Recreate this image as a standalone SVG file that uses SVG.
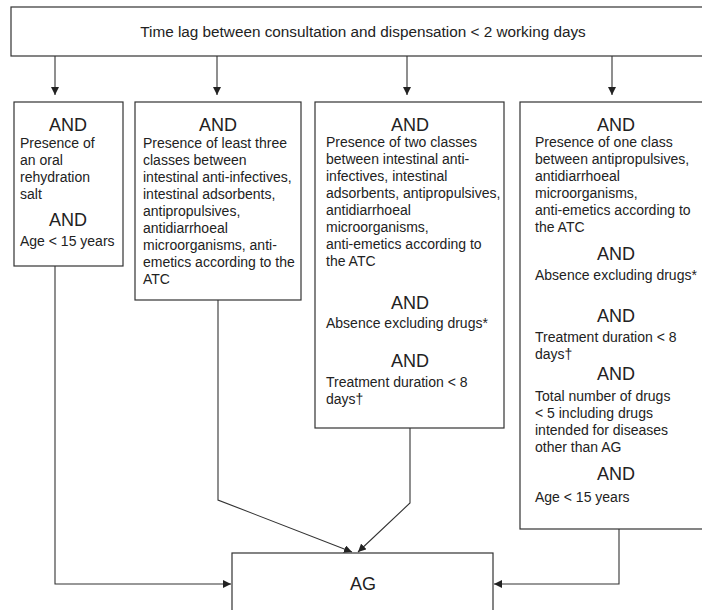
<svg xmlns="http://www.w3.org/2000/svg" width="702" height="610" viewBox="0 0 702 610">
<style>
.box{fill:#fff;stroke:#333;stroke-width:1.2}
.t{font-family:"Liberation Sans",Arial,sans-serif;font-size:14px;fill:#222}
.and{font-family:"Liberation Sans",Arial,sans-serif;font-size:18px;fill:#222;text-anchor:middle}
.ln{fill:none;stroke:#333;stroke-width:1.1}
</style>
<defs>
<marker id="ah" viewBox="0 0 10 10" refX="10" refY="5" markerWidth="8" markerHeight="8" markerUnits="userSpaceOnUse" orient="auto">
<path d="M0,0 L10,5 L0,10 z" fill="#222"/>
</marker>
</defs>
<rect width="702" height="610" fill="#fff"/>
<g id="top">
<rect class="box" x="11" y="7" width="695" height="49"/>
<text class="t" x="363" y="37" text-anchor="middle" style="font-size:15.3px">Time lag between consultation and dispensation &lt; 2 working days</text>
</g>
<g id="box1">
<rect class="box" x="14" y="102" width="109" height="164"/>
<text class="and" x="68" y="131">AND</text>
<text class="t" x="20" y="148">Presence of</text>
<text class="t" x="20" y="165">an oral</text>
<text class="t" x="20" y="182">rehydration</text>
<text class="t" x="20" y="199">salt</text>
<text class="and" x="68" y="226">AND</text>
<text class="t" x="20" y="246">Age &lt; 15 years</text>
</g>
<g id="box2">
<rect class="box" x="135" y="102" width="166" height="198"/>
<text class="and" x="218" y="131">AND</text>
<text class="t" x="143" y="148">Presence of least three</text>
<text class="t" x="143" y="165">classes between</text>
<text class="t" x="143" y="182">intestinal anti-infectives,</text>
<text class="t" x="143" y="199">intestinal adsorbents,</text>
<text class="t" x="143" y="216">antipropulsives,</text>
<text class="t" x="143" y="233">antidiarrhoeal</text>
<text class="t" x="143" y="250">microorganisms, anti-</text>
<text class="t" x="143" y="267">emetics according to the</text>
<text class="t" x="143" y="284">ATC</text>
</g>
<g id="box3">
<rect class="box" x="315" y="102" width="189" height="326"/>
<text class="and" x="410" y="131">AND</text>
<text class="t" x="326" y="147">Presence of two classes</text>
<text class="t" x="326" y="164">between intestinal anti-</text>
<text class="t" x="326" y="181">infectives, intestinal</text>
<text class="t" x="326" y="198">adsorbents, antipropulsives,</text>
<text class="t" x="326" y="215">antidiarrhoeal</text>
<text class="t" x="326" y="232">microorganisms,</text>
<text class="t" x="326" y="249">anti-emetics according to</text>
<text class="t" x="326" y="266">the ATC</text>
<text class="and" x="410" y="309">AND</text>
<text class="t" x="326" y="328">Absence excluding drugs*</text>
<text class="and" x="410" y="367">AND</text>
<text class="t" x="326" y="387">Treatment duration &lt; 8</text>
<text class="t" x="326" y="404">days†</text>
</g>
<g id="box4">
<rect class="box" x="520" y="102" width="186" height="427"/>
<text class="and" x="616" y="131">AND</text>
<text class="t" x="535" y="147">Presence of one class</text>
<text class="t" x="535" y="164">between antipropulsives,</text>
<text class="t" x="535" y="181">antidiarrhoeal</text>
<text class="t" x="535" y="198">microorganisms,</text>
<text class="t" x="535" y="215">anti-emetics according to</text>
<text class="t" x="535" y="232">the ATC</text>
<text class="and" x="616" y="260">AND</text>
<text class="t" x="535" y="280">Absence excluding drugs*</text>
<text class="and" x="616" y="322">AND</text>
<text class="t" x="535" y="342">Treatment duration &lt; 8</text>
<text class="t" x="535" y="359">days†</text>
<text class="and" x="616" y="380">AND</text>
<text class="t" x="535" y="401">Total number of drugs</text>
<text class="t" x="535" y="418">&lt; 5 including drugs</text>
<text class="t" x="535" y="435">intended for diseases</text>
<text class="t" x="535" y="452">other than AG</text>
<text class="and" x="616" y="480">AND</text>
<text class="t" x="535" y="502">Age &lt; 15 years</text>
</g>
<g id="ag">
<rect class="box" x="232" y="553" width="261" height="70"/>
<text class="and" x="363" y="590">AG</text>
</g>
<g id="connectors">
<line class="ln" x1="55" y1="56" x2="55" y2="95" marker-end="url(#ah)"/>
<line class="ln" x1="217" y1="56" x2="217" y2="95" marker-end="url(#ah)"/>
<line class="ln" x1="407" y1="56" x2="407" y2="95" marker-end="url(#ah)"/>
<line class="ln" x1="612" y1="56" x2="612" y2="95" marker-end="url(#ah)"/>
<polyline class="ln" points="55,266 55,584 231,584" marker-end="url(#ah)"/>
<polyline class="ln" points="218,300 218,500 352,552" marker-end="url(#ah)"/>
<polyline class="ln" points="410,428 410,503 358,552" marker-end="url(#ah)"/>
<polyline class="ln" points="619,529 619,584 494,584" marker-end="url(#ah)"/>
</g>
</svg>
